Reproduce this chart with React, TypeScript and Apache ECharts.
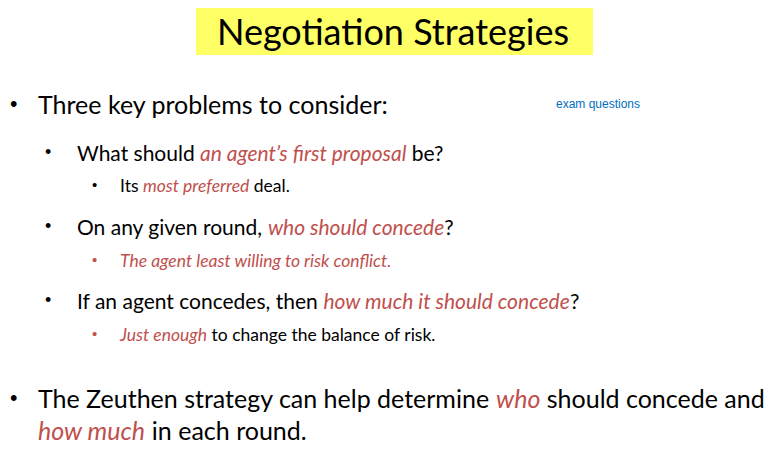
import { useEffect, useRef } from 'react';
import * as echarts from 'echarts';

const title = 'Negotiation Strategies';
const RED = '#c0504d';
const FONT = 'Lato, "Liberation Sans", sans-serif';

// [bulletX, textX, y, fontSize, rich text, bullet colour]
const lines: Array<[number, number, number, number, string, string]> = [
  [10, 38, 104, 25, 'Three key problems to consider:', '#000'],
  [45, 77, 152, 21, 'What should {r|an agent’s first proposal} be?', '#000'],
  [92, 120, 185, 17.5, 'Its {r|most preferred} deal.', '#000'],
  [45, 77, 226, 21, 'On any given round, {r|who should concede}?', '#000'],
  [92, 120, 260, 17.5, '{r|The agent least willing to risk conflict.}', RED],
  [45, 77, 300, 21, 'If an agent concedes, then {r|how much it should concede}?', '#000'],
  [92, 120, 334, 17.5, '{r|Just enough} to change the balance of risk.', RED],
  [10, 38, 398, 25, 'The Zeuthen strategy can help determine {r|who} should concede and', '#000'],
  [-1, 38, 430, 25, '{r|how much} in each round.', '#000'],
];

export default function App() {
  const ref = useRef<HTMLDivElement>(null);
  useEffect(() => {
    document.body.style.margin = '0';
    if (!ref.current) return;
    const chart = echarts.init(ref.current, null, { renderer: 'svg' });
    const elements: any[] = [
      { type: 'rect', shape: { x: 196, y: 8, width: 397, height: 47 }, style: { fill: '#ffff66' } },
      {
        type: 'text', x: 393, y: 31,
        style: { text: title, fontSize: 36, fontFamily: FONT, fill: '#000', align: 'center', verticalAlign: 'middle' },
      },
      {
        type: 'text', x: 556, y: 104,
        style: { text: 'exam questions', fontSize: 12, fontFamily: '"Liberation Sans", Arial, sans-serif', fill: '#0070c0', verticalAlign: 'middle' },
      },
    ];
    lines.forEach(([bx, tx, y, fs, txt, bc]) => {
      if (bx >= 0) {
        elements.push({
          type: 'text', x: bx, y,
          style: { text: '•', fontSize: fs * 0.85, fontFamily: '"Liberation Sans", Arial, sans-serif', fill: bc, verticalAlign: 'middle' },
        });
      }
      elements.push({
        type: 'text', x: tx, y,
        style: {
          text: txt, fontSize: fs, fontFamily: FONT, fill: '#000', verticalAlign: 'middle',
          rich: { r: { fontSize: fs, fontFamily: FONT, fill: RED, fontStyle: 'italic' } },
        },
      });
    });
    chart.setOption({ animation: false, backgroundColor: '#fff', graphic: { elements } });
    return () => chart.dispose();
  }, []);
  return <div ref={ref} style={{ width: 782, height: 449 }} />;
}
